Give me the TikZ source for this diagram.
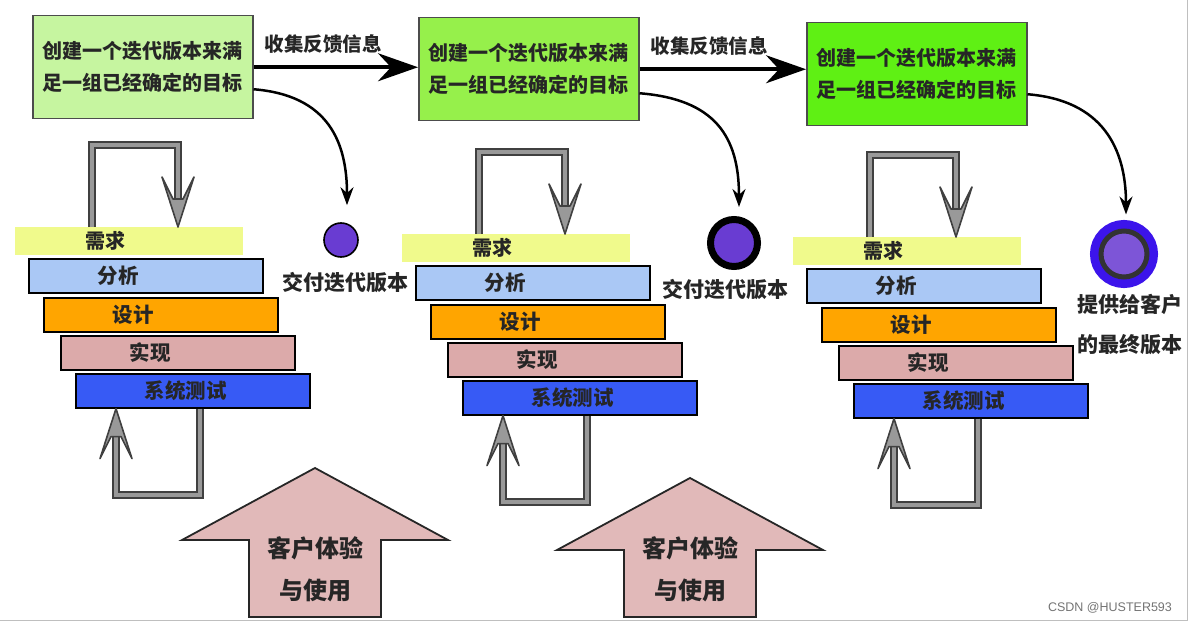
\documentclass[tikz,border=0pt]{standalone}
\usepackage{fontspec}
\setmainfont{Noto Sans CJK SC}
\newfontfamily\markfont{Liberation Sans}
\usetikzlibrary{arrows.meta}
\definecolor{goalA}{RGB}{198,245,160}
\definecolor{goalB}{RGB}{150,240,75}
\definecolor{goalC}{RGB}{95,240,20}
\definecolor{reqc}{RGB}{240,250,140}
\definecolor{anac}{RGB}{170,200,245}
\definecolor{desc}{RGB}{255,165,0}
\definecolor{impc}{RGB}{220,170,170}
\definecolor{tesc}{RGB}{55,90,245}
\definecolor{dotc}{RGB}{105,60,210}
\definecolor{innerc}{RGB}{125,85,215}
\definecolor{ringc}{RGB}{60,20,235}
\definecolor{usec}{RGB}{225,185,185}
\tikzstyle{goal}=[draw=black!70, line width=1.5pt, minimum width=220pt, minimum height=103pt, anchor=north west, align=center, text=black!85, font=\fontsize{20}{32}\selectfont\bfseries]
\tikzstyle{band}=[fill=reqc, minimum width=228pt, minimum height=28pt, text width=228pt, inner xsep=0pt, anchor=north west, align=left, text=black!85, font=\fontsize{20}{22}\selectfont\bfseries, execute at begin node=\hspace*{70pt}]
\tikzstyle{stair}=[draw=black, line width=1.6pt, minimum height=34pt, text width=234pt, inner xsep=0pt, anchor=north west, align=left, text=black!85, font=\fontsize{20.5}{22}\selectfont\bfseries, execute at begin node=\hspace*{69pt}]
\tikzstyle{backloop}=[draw=black!75, line width=2pt, double=black!40, double distance=4pt]
\tikzstyle{loophead}=[draw=black!75, line width=1.6pt, fill=black!40, line join=round]
\tikzstyle{feedback}=[line width=3.5pt, -{Stealth[length=40pt, width=28pt]}]
\tikzstyle{curvearrow}=[line width=2.5pt, -{Stealth[length=18pt, width=13pt]}]
\tikzstyle{fblabel}=[anchor=south west, xshift=6pt, yshift=9pt, text=black!85, font=\fontsize{19.5}{22}\selectfont\bfseries]
\tikzstyle{dlabel}=[align=center, text=black!85, font=\fontsize{21}{40}\selectfont\bfseries]
\tikzstyle{dot}=[shape=circle, minimum size=34pt, inner sep=0, fill=dotc, draw=black, line width=1.6pt]
\tikzstyle{bigup}=[draw=black!85, line width=1.8pt, fill=usec, line join=miter]
\tikzstyle{usetext}=[align=center, text=black!85, font=\fontsize{24}{42}\selectfont\bfseries]
\begin{document}
\begin{tikzpicture}[x=1pt, y=-1pt]
\useasboundingbox (0,0) rectangle (1192,623);
\foreach \c/\dx/\dy/\bx/\by/\col in {1/0/0/32/15/goalA,2/387/7/418/17/goalB,3/778/10/806/22/goalC}
{
\node[goal, fill=\col] (G\c) at (\bx,\by) {创建一个迭代版本来满\\足一组已经确定的目标};
\node[band] (R\c) at (15+\dx,227+\dy) {需求};
\node[stair, fill=anac] (S\c1) at (28+\dx,258+\dy) {分析};
\node[stair, fill=desc] (S\c2) at (43+\dx,297+\dy) {设计};
\node[stair, fill=impc] (S\c3) at (60+\dx,335+\dy) {实现};
\node[stair, fill=tesc] (S\c4) at (75+\dx,373+\dy) {系统测试};
% loop back into the requirements
\draw[backloop] ([xshift=77pt]R\c.north west) -- ++(0,-82) -| ([xshift=163pt, yshift=28pt]R\c.north west);
\draw[loophead] ([xshift=163pt]R\c.north west) -- ++(-16,-50) -- ++(11,22) -- ++(10,0) -- ++(11,-22) -- cycle;
% loop below the system test
\draw[backloop] ([xshift=125pt]S\c4.south west) -- ++(0,86) -| ([xshift=41pt, yshift=-28pt]S\c4.south west);
\draw[loophead] ([xshift=41pt]S\c4.south west) -- ++(-16,50) -- ++(11,-22) -- ++(10,0) -- ++(11,22) -- cycle;
}
\draw[feedback] (G1.east) -- (G1.east -| G2.west) node[fblabel, pos=0] {收集反馈信息};
\draw[feedback] (G2.east) -- (G2.east -| G3.west) node[fblabel, pos=0] {收集反馈信息};
\node[dot] (D1) at (341,240) {};
\node[dot, line width=7pt, minimum size=47pt] (D2) at (734,243) {};
\node[dot, fill=innerc, minimum size=46pt, line width=5pt, draw=black!80, preaction={draw=ringc, line width=22pt}] (D3) at (1124,254) {};
\node[dlabel] (L1) at (345,283) {交付迭代版本};
\node[dlabel] (L2) at (725,290) {交付迭代版本};
\node[dlabel] (L3) at (1130,325) {提供给客户\\的最终版本};
\draw[curvearrow, shorten >=17pt] ([yshift=-22pt]G1.east) .. controls +(75,6) and +(0,-80) .. ([xshift=6pt]D1.north);
\draw[curvearrow, shorten >=9pt] ([yshift=-24pt]G2.east) .. controls +(75,6) and +(0,-80) .. ([xshift=5pt]D2.north);
\draw[curvearrow, shorten >=14pt] ([yshift=-20pt]G3.east) .. controls +(75,6) and +(0,-80) .. ([xshift=2pt]D3.north);
\foreach \ux/\uy [count=\u] in {315/468,690/478}
{
\draw[bigup] (\ux,\uy) -- (\ux+133,\uy+72) -- (\ux+66,\uy+72) -- (\ux+66,617) -- (\ux-66,617) -- (\ux-66,\uy+72) -- (\ux-133,\uy+72) -- cycle;
\node[usetext] (U\u) at (\ux,569) {客户体验\\与使用};
}
\draw[black!25] (0,620) -- (1187,620) -- (1187,0);
\node[text=black!55, font=\markfont\fontsize{12.5}{14}\selectfont] (W) at (1110,608) {CSDN @HUSTER593};
\end{tikzpicture}
\end{document}
